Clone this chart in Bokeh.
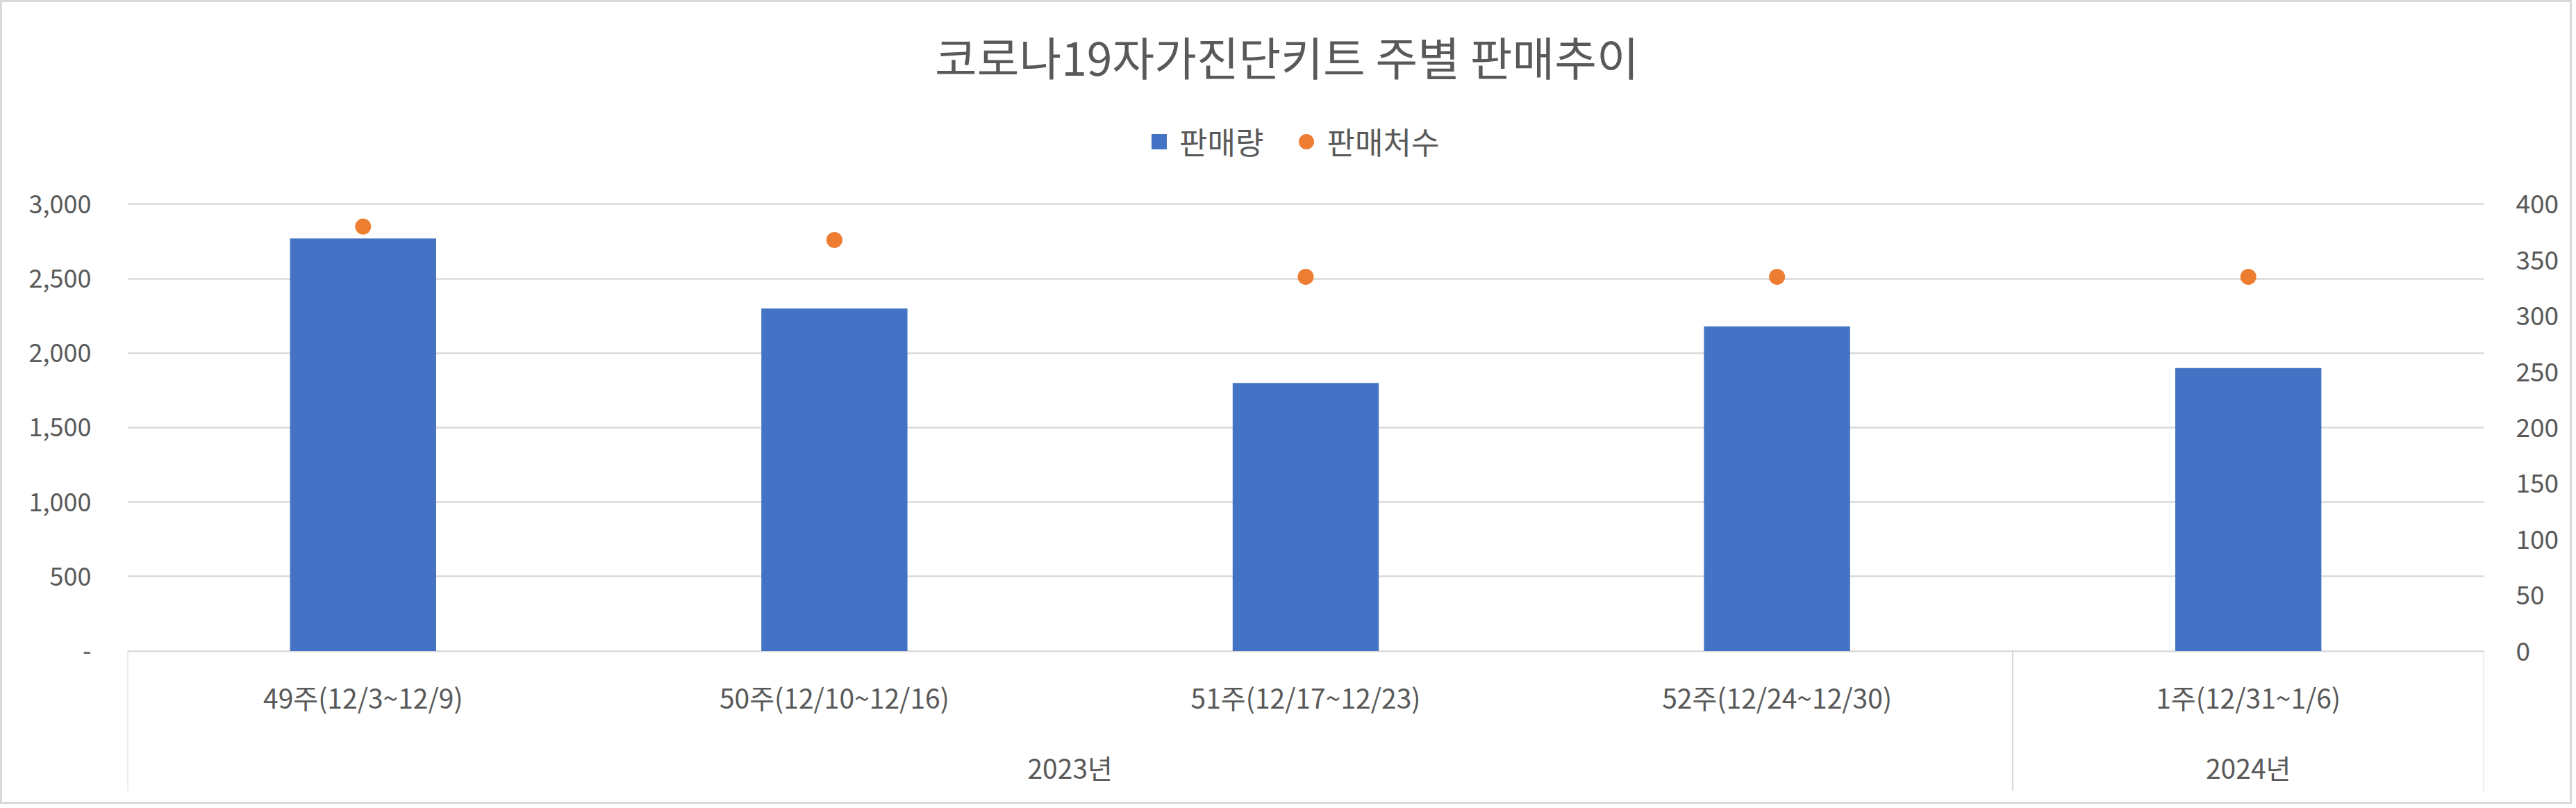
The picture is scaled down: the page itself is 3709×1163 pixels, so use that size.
from bokeh.plotting import figure
from bokeh.models import (FactorRange, Range1d, LinearAxis, FixedTicker,
                          Legend, LegendItem, CustomJSTickFormatter, Label)
from bokeh.embed import file_html
from bokeh.resources import INLINE
from bokeh.core.properties import value

# ---- data ----
title_text = "코로나19자가진단키트 주별 판매추이"
weeks = ["49주(12/3~12/9)", "50주(12/10~12/16)", "51주(12/17~12/23)",
         "52주(12/24~12/30)", "1주(12/31~1/6)"]
years = ["2023년", "2023년", "2023년", "2023년", "2024년"]
sales = [2770, 2300, 1800, 2180, 1900]          # 판매량 (left axis)
stores = [380, 368, 335, 335, 335]              # 판매처수 (right axis)
left_ticks = [0, 500, 1000, 1500, 2000, 2500, 3000]
left_tick_labels = ["-", "500", "1,000", "1,500", "2,000", "2,500", "3,000"]
right_ticks = [0, 50, 100, 150, 200, 250, 300, 350, 400]
series_names = ["판매량", "판매처수"]

# ---- style / layout ----
FONT = "Noto Sans CJK KR"
TEXT = "#595959"
GRID = "#D9D9D9"
BLUE = "#4472C4"
ORANGE = "#ED7D31"
LEFT_MAX = 3000
RIGHT_MAX = 400
Y_TOP = 4355                   # frame reaches the top of the chart (title/legend space)
LOW = -940                     # depth of the category box below zero (left units)
R_TOP = RIGHT_MAX * Y_TOP / LEFT_MAX
R_LOW = RIGHT_MAX * LOW / LEFT_MAX
WEEK_Y = -310
YEAR_Y = -777
TITLE_X = 2.46
TITLE_Y = 3996
LEGEND_POS = (1458, 903)       # screen px from the frame's bottom-left

p = figure(width=3703, height=1157,
           x_range=FactorRange(*weeks, range_padding=0, factor_padding=0),
           y_range=Range1d(LOW, Y_TOP),
           output_backend="svg", toolbar_location=None,
           min_border_left=180, min_border_right=130,
           min_border_top=0, min_border_bottom=22,
           title=None)
p.styles = {"border": "3px solid #D9D9D9"}
p.extra_y_ranges = {"r": Range1d(R_LOW, R_TOP)}
p.outline_line_color = None
p.background_fill_color = "white"
p.border_fill_color = "white"

# left axis
p.xaxis.visible = False
yl = p.yaxis[0]
yl.ticker = FixedTicker(ticks=left_ticks)
yl.formatter = CustomJSTickFormatter(args=dict(tvals=left_ticks, tlabels=left_tick_labels),
                                     code="const i = tvals.indexOf(tick); return i >= 0 ? tlabels[i] : '';")
yl.axis_line_color = None
yl.major_tick_line_color = None
yl.minor_tick_line_color = None
yl.major_label_standoff = 46
yl.major_label_text_font = FONT
yl.major_label_text_font_size = "36px"
yl.major_label_text_color = TEXT

# right axis
yr = LinearAxis(y_range_name="r", ticker=FixedTicker(ticks=right_ticks))
yr.axis_line_color = None
yr.major_tick_line_color = None
yr.minor_tick_line_color = None
yr.major_label_standoff = 40
yr.major_label_text_font = FONT
yr.major_label_text_font_size = "37px"
yr.major_label_text_color = TEXT
p.add_layout(yr, "right")

p.xgrid.grid_line_color = None
p.ygrid.ticker = FixedTicker(ticks=left_ticks)
p.ygrid.grid_line_color = GRID
p.ygrid.grid_line_width = 2.5

# category box: vertical separators at group boundaries
bounds = [0]
for i in range(1, len(years)):
    if years[i] != years[i - 1]:
        bounds.append(i)
bounds.append(len(years))
sep_x = [(weeks[b], -0.5) if b < len(weeks) else (weeks[-1], 0.5) for b in bounds]
p.segment(x0=sep_x, y0=[0] * len(sep_x), x1=sep_x, y1=[LOW] * len(sep_x),
          line_color=GRID, line_width=2)

# legend swatch for the bars (hidden behind the bars themselves)
legend_square = p.scatter(x=weeks, y=[s / 2 for s in sales], marker="square", size=22,
                          fill_color=BLUE, line_color=None)
# bars and dots
bars = p.vbar(x=weeks, top=sales, width=0.31, fill_color=BLUE, line_color=None)
dots = p.scatter(x=weeks, y=stores, y_range_name="r", size=23,
                 fill_color=ORANGE, line_color=None)

# week labels
p.text(x=weeks, y=[WEEK_Y] * len(weeks), text=weeks,
       text_font=value(FONT), text_font_size="39px", text_color=TEXT,
       text_align="center", text_baseline="middle")

# year labels, centered under each group
yx, yt = [], []
for s, e in zip(bounds[:-1], bounds[1:]):
    mid = (s + e - 1) / 2
    k = int(mid)
    yx.append((weeks[k], mid - k))
    yt.append(years[s])
p.text(x=yx, y=[YEAR_Y] * len(yx), text=yt,
       text_font=value(FONT), text_font_size="39px", text_color=TEXT,
       text_align="center", text_baseline="middle")

# title
p.add_layout(Label(x=TITLE_X, y=TITLE_Y, text=title_text, text_align="center",
                   text_baseline="middle", text_font=FONT, text_font_size="66px",
                   text_color=TEXT))

legend = Legend(items=[LegendItem(label=series_names[0], renderers=[legend_square]),
                       LegendItem(label=series_names[1], renderers=[dots])],
                orientation="horizontal", location=LEGEND_POS,
                glyph_width=55, glyph_height=55, label_standoff=2, spacing=34,
                label_text_font=FONT, label_text_font_size="44px", label_text_color=TEXT,
                border_line_color=None, background_fill_alpha=0, padding=0, margin=0)
p.add_layout(legend)

open("out.html", "w").write(file_html(p, INLINE))
